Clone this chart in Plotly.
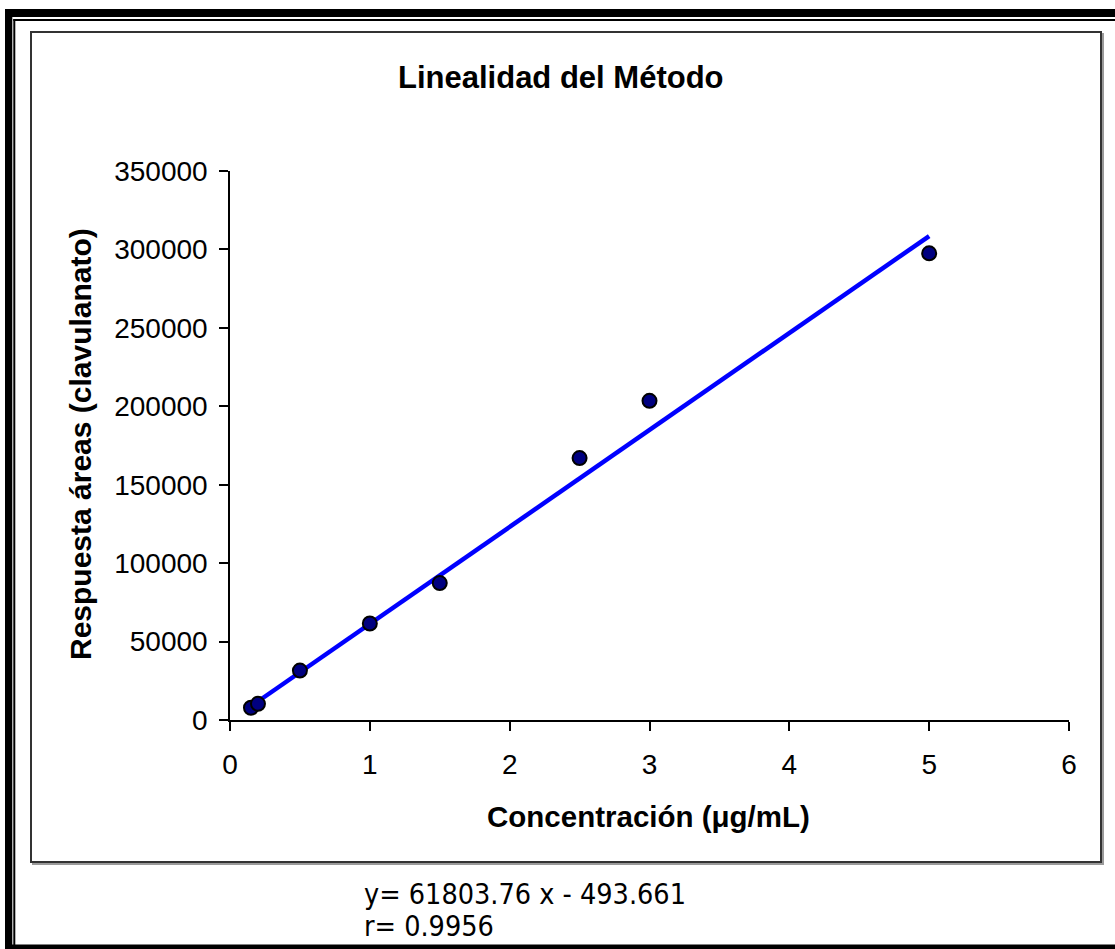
import numpy as np
import plotly.graph_objects as go

# ---- data ----
conc = [0.15, 0.2, 0.5, 1.0, 1.5, 2.5, 3.0, 5.0]
area = [7800, 10300, 31500, 61500, 87300, 167000, 203500, 297500]
slope = 61803.76
intercept = -493.661
r_value = 0.9956
x_ticks = [0, 1, 2, 3, 4, 5, 6]
y_ticks = [0, 50000, 100000, 150000, 200000, 250000, 300000, 350000]
y_tick_labels = ["0", "50000", "100000", "150000", "200000", "250000", "300000", "350000"]

title_text = "Linealidad del Método"
x_title = "Concentración (μg/mL)"
y_title = "Respuesta áreas (clavulanato)"
eq_text = "y= 61803.76 x - 493.661"
r_text = "r= 0.9956"

# ---- layout geometry (pixels) ----
W, H = 1115, 949
L, R, T, B = 230, 1069, 171, 720  # plot area in pixels


def px(x):
    return (x - L) / (R - L)


def py(y):
    return (B - y) / (B - T)


fit_x = np.array([min(conc), max(conc)])
fit_y = slope * fit_x + intercept

fig = go.Figure()
fig.add_trace(go.Scatter(x=fit_x, y=fit_y, mode="lines",
                         line=dict(color="#0000FF", width=4.5), showlegend=False,
                         hoverinfo="skip"))
fig.add_trace(go.Scatter(x=conc, y=area, mode="markers",
                         marker=dict(size=14, color="#000080",
                                     line=dict(color="black", width=2)),
                         showlegend=False))

font_main = "Liberation Sans, Arial, sans-serif"
font_eq = "DejaVu Sans Condensed, DejaVu Sans, sans-serif"

shapes = []
# outer thick frame
shapes.append(dict(type="rect", xref="paper", yref="paper", x0=px(5), x1=px(1120), y0=py(17), y1=py(9),
                   fillcolor="black", line=dict(width=0), layer="above"))
shapes.append(dict(type="rect", xref="paper", yref="paper", x0=px(5), x1=px(12.3), y0=py(955), y1=py(9),
                   fillcolor="black", line=dict(width=0), layer="above"))
shapes.append(dict(type="rect", xref="paper", yref="paper", x0=px(5), x1=px(1120), y0=py(955), y1=py(944.5),
                   fillcolor="black", line=dict(width=0), layer="above"))
# thin inner frame lines
shapes.append(dict(type="rect", xref="paper", yref="paper", x0=px(13.3), x1=px(1120), y0=py(21), y1=py(19),
                   fillcolor="black", line=dict(width=0), layer="above"))
shapes.append(dict(type="rect", xref="paper", yref="paper", x0=px(13.3), x1=px(15.3), y0=py(945), y1=py(19),
                   fillcolor="black", line=dict(width=0), layer="above"))
# chart area frame with slight shadow
shapes.append(dict(type="rect", xref="paper", yref="paper", x0=px(33), x1=px(1103), y0=py(864), y1=py(34),
                   line=dict(color="#9a9a9a", width=2), layer="below"))
shapes.append(dict(type="rect", xref="paper", yref="paper", x0=px(31), x1=px(1101), y0=py(862), y1=py(32),
                   fillcolor="white", line=dict(color="#333333", width=2), layer="below"))

annotations = [
    dict(text="<b>" + title_text + "</b>", xref="paper", yref="paper", x=px(561), y=py(77),
         xanchor="center", yanchor="middle", showarrow=False,
         font=dict(family=font_main, size=31, color="black")),
    dict(text="<b>" + y_title + "</b>", xref="paper", yref="paper", x=px(80), y=py(444),
         xanchor="center", yanchor="middle", textangle=-90, showarrow=False,
         font=dict(family=font_main, size=30, color="black")),
    dict(text="<b>" + x_title + "</b>", xref="paper", yref="paper", x=px(648), y=py(816),
         xanchor="center", yanchor="middle", showarrow=False,
         font=dict(family=font_main, size=29.5, color="black")),
    dict(text=eq_text, xref="paper", yref="paper", x=px(362), y=py(894),
         xanchor="left", yanchor="middle", showarrow=False,
         font=dict(family=font_eq, size=28.5, color="black")),
    dict(text=r_text, xref="paper", yref="paper", x=px(362), y=py(926),
         xanchor="left", yanchor="middle", showarrow=False,
         font=dict(family=font_eq, size=28.5, color="black")),
]

fig.update_layout(
    width=W, height=H,
    margin=dict(l=L, r=W - R, t=T, b=H - B, pad=0),
    paper_bgcolor="white", plot_bgcolor="rgba(0,0,0,0)",
    shapes=shapes, annotations=annotations,
    font=dict(family=font_main, size=28, color="black"),
)
fig.update_xaxes(range=[0, 6], tickvals=x_ticks, ticktext=[str(v) for v in x_ticks],
                 ticks="outside", ticklen=9, tickwidth=1.5,
                 tickcolor="black", showline=True, linecolor="black", linewidth=1.5,
                 showgrid=False, zeroline=False, tickfont=dict(size=28, family=font_main),
                 ticklabelstandoff=10)
fig.update_yaxes(range=[0, 350000], tickvals=y_ticks, ticktext=y_tick_labels,
                 ticks="outside", ticklen=9, tickwidth=1.5,
                 tickcolor="black", showline=True, linecolor="black", linewidth=1.5,
                 showgrid=False, zeroline=False, tickfont=dict(size=28, family=font_main),
                 ticklabelstandoff=6)

fig.write_html("out.html", config={"displayModeBar": False},
               post_script="document.body.style.margin='0';document.body.style.overflow='hidden';")
